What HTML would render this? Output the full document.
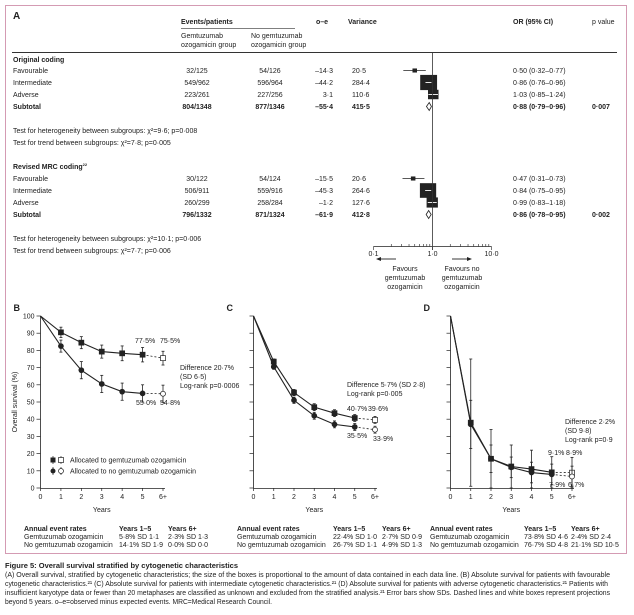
<!DOCTYPE html>
<html><head><meta charset="utf-8"><style>
html,body{margin:0;padding:0;background:#fff;}
svg{display:block;font-family:"Liberation Sans Narrow","Liberation Sans",sans-serif;fill:#222;}
text{font-size:7px;}
.b{font-weight:bold;}
</style></head><body>
<svg id="fig" width="634" height="615" viewBox="0 0 634 615" xmlns="http://www.w3.org/2000/svg">
<rect x="5.5" y="5.5" width="621" height="548" fill="none" stroke="#d49bb3" stroke-width="1"/>
<g id="panelA">
<text x="13" y="19" class="b" style="font-size:10px">A</text>
<text x="181" y="24" class="b">Events/patients</text>
<line x1="181" y1="28.5" x2="295" y2="28.5" stroke="#555" stroke-width="0.7"/>
<text x="316" y="24" class="b">o–e</text>
<text x="348" y="24" class="b">Variance</text>
<text x="513" y="24" class="b">OR (95% CI)</text>
<text x="592" y="24">p value</text>
<text x="181" y="38">Gemtuzumab</text>
<text x="181" y="47">ozogamicin group</text>
<text x="251" y="38">No gemtuzumab</text>
<text x="251" y="47">ozogamicin group</text>
<line x1="12" y1="52.5" x2="617" y2="52.5" stroke="#333" stroke-width="0.9"/>
<text x="13" y="62" class="b">Original coding</text>
<text x="13" y="133">Test for heterogeneity between subgroups: χ²=9·6; p=0·008</text>
<text x="13" y="145">Test for trend between subgroups: χ²=7·8; p=0·005</text>
<text x="13" y="169" class="b">Revised MRC coding<tspan dy="-3" style="font-size:4px">22</tspan></text>
<text x="13" y="241">Test for heterogeneity between subgroups: χ²=10·1; p=0·006</text>
<text x="13" y="253">Test for trend between subgroups: χ²=7·7; p=0·006</text>
<g id="forestRows"></g>
<line x1="432.5" y1="52" x2="432.5" y2="246" stroke="#333" stroke-width="0.8"/>
<g id="forestAxis"></g>
<line x1="380" y1="259" x2="396" y2="259" stroke="#222" stroke-width="0.9"/><path d="M376 259 l5 -2 v4z" fill="#222"/>
<line x1="452" y1="259" x2="468" y2="259" stroke="#222" stroke-width="0.9"/><path d="M472 259 l-5 -2 v4z" fill="#222"/>
<text x="405" y="271" text-anchor="middle">Favours</text>
<text x="405" y="280" text-anchor="middle">gemtuzumab</text>
<text x="405" y="289" text-anchor="middle">ozogamicin</text>
<text x="462" y="271" text-anchor="middle">Favours no</text>
<text x="462" y="280" text-anchor="middle">gemtuzumab</text>
<text x="462" y="289" text-anchor="middle">ozogamicin</text>
</g>
<g id="survival"></g>
<g id="tables"></g>
<g>
<text x="5" y="568" class="b" style="font-size:7.5px">Figure 5: Overall survival stratified by cytogenetic characteristics</text>
<text x="5" y="577" textLength="605" lengthAdjust="spacingAndGlyphs">(A) Overall survival, stratified by cytogenetic characteristics; the size of the boxes is proportional to the amount of data contained in each data line. (B) Absolute survival for patients with favourable</text>
<text x="5" y="586" textLength="603" lengthAdjust="spacingAndGlyphs">cytogenetic characteristics.²¹ (C) Absolute survival for patients with intermediate cytogenetic characteristics.²¹ (D) Absolute survival for patients with adverse cytogenetic characteristics.²¹ Patients with</text>
<text x="5" y="595" textLength="605" lengthAdjust="spacingAndGlyphs">insufficient karyotype data or fewer than 20 metaphases are classified as unknown and excluded from the stratified analysis.²¹ Error bars show SDs. Dashed lines and white boxes represent projections</text>
<text x="5" y="604" textLength="267" lengthAdjust="spacingAndGlyphs">beyond 5 years. o–e=observed minus expected events. MRC=Medical Research Council.</text>
</g>
</svg>
<script>
const NS="http://www.w3.org/2000/svg";
// ---- Forest plot data ----
const forestLabels=["Favourable","Intermediate","Adverse","Subtotal","Favourable","Intermediate","Adverse","Subtotal"];
const forestGem=["32/125","549/962","223/261","804/1348","30/122","506/911","260/299","796/1332"];
const forestNoGem=["54/126","596/964","227/256","877/1346","54/124","559/916","258/284","871/1324"];
const forestOE=["-14·3","-44·2","3·1","-55·4","-15·5","-45·3","-1·2","-61·9"];
const forestVar=[20.5,284.4,110.6,415.5,20.6,264.6,127.6,412.8];
const forestOR=[0.50,0.86,1.03,0.88,0.47,0.84,0.99,0.86];
const forestLo=[0.32,0.76,0.85,0.79,0.31,0.75,0.83,0.78];
const forestHi=[0.77,0.96,1.24,0.96,0.73,0.95,1.18,0.95];
const forestP=["","","","0·007","","","","0·002"];
const forestRowY=[73,85,97,109,181,193,205,217];
const orTicks=[0.1,1,10];
const orTickLabels=["0·1","1·0","10·0"];
function fmt(v){return v.toFixed(2).replace('.','·');}
function fmtV(v){return v.toFixed(1).replace('.','·');}
function orX(v){return 432.5+59*Math.log10(v);}
function mk(tag,attrs,parent){const e=document.createElementNS(NS,tag);for(const k in attrs)e.setAttribute(k,attrs[k]);parent.appendChild(e);return e;}
const fr=document.getElementById('forestRows');
forestLabels.forEach((lab,i)=>{
  const y=forestRowY[i], sub=lab==="Subtotal";
  const g=mk('g',{},fr);
  
  
  const cls=sub?'b':'';
  let t=mk('text',{x:13,y:y,class:cls},g);t.textContent=lab;
  t=mk('text',{x:197,y:y,'text-anchor':'middle',class:cls},g);t.textContent=forestGem[i];
  t=mk('text',{x:270,y:y,'text-anchor':'middle',class:cls},g);t.textContent=forestNoGem[i];
  t=mk('text',{x:333,y:y,'text-anchor':'end',class:cls},g);t.textContent=forestOE[i].replace('-','–');
  t=mk('text',{x:352,y:y,class:cls},g);t.textContent=fmtV(forestVar[i]);
  t=mk('text',{x:513,y:y,class:cls},g);t.textContent=fmt(forestOR[i])+" ("+fmt(forestLo[i])+"–"+fmt(forestHi[i])+")";
  if(forestP[i]){t=mk('text',{x:592,y:y,class:cls},g);t.textContent=forestP[i];}
  const cy=y-2.5, cx=orX(forestOR[i]), x1=orX(forestLo[i]), x2=orX(forestHi[i]);
  if(sub){
    const d=mk('path',{d:`M${x1} ${cy} L${cx} ${cy-4} L${x2} ${cy} L${cx} ${cy+4}Z`,fill:'#fff',stroke:'#222','stroke-width':0.8},g);
    
    
  } else {
    const s=Math.sqrt(forestVar[i]);
    mk('line',{x1:x1,y1:cy,x2:x2,y2:cy,stroke:'#222','stroke-width':0.8},g);
    const r=mk('rect',{x:cx-s/2,y:cy-s*0.45,width:s,height:s*0.9,fill:'#222'},g);
    
    
    if(s>8) mk('line',{x1:x1,y1:cy,x2:x2,y2:cy,stroke:'#fff','stroke-width':0.9},g);
  }
});
const fa=document.getElementById('forestAxis');
mk('line',{x1:orX(0.1),y1:246.5,x2:orX(10),y2:246.5,stroke:'#222','stroke-width':0.8},fa);
for(let d=0.1;d<10;d*=10){for(let k=1;k<=10;k++){const x=orX(d*k);mk('line',{x1:x,y1:246.5,x2:x,y2:(k===1||k===10)?250:244,stroke:'#222','stroke-width':0.6},fa);}}
orTicks.forEach((v,i)=>{const t=mk('text',{x:orX(v),y:256,'text-anchor':'middle'},fa);t.textContent=orTickLabels[i];});

// ---- Survival data ----
const years=["0","1","2","3","4","5","6+"];
const yTicks=[0,10,20,30,40,50,60,70,80,90,100];
const bGem=[100,90.5,84.5,79.3,78.3,77.5,75.5];
const bGemSD=[0,3,3.5,3.8,4.3,4.2,4];
const bNo=[100,82.5,68.5,60.5,56,55,54.8];
const bNoSD=[0,3.5,5,5,5,5,5];
const cGem=[100,73.5,55.5,47,43.5,40.7,39.6];
const cGemSD=[0,1.5,1.8,2,2,2,2];
const cNo=[100,70.5,51,42,37,35.5,33.9];
const cNoSD=[0,1.5,1.8,2,2,2,2];
const dGem=[100,38,17,12.5,11,9.1,8.9];
const dGemSD=[0,37,17,12.5,11,9.1,8.9];
const dNo=[100,37,17,12,9,7.9,6.7];
const dNoSD=[0,14,8,6,6,6,6];
const panels=[
 {id:'b',letter:'B',x0:40.5,x6:163,gem:bGem,gsd:bGemSD,no:bNo,nsd:bNoSD,labels:true,
  ann:[["77·5%",135,343],["75·5%",160,343],["55·0%",136,405],["54·8%",160,405],["Difference 20·7%",180,370],["(SD 6·5)",180,379],["Log-rank p=0·0006",180,388]]},
 {id:'c',letter:'C',x0:253.5,x6:375,gem:cGem,gsd:cGemSD,no:cNo,nsd:cNoSD,labels:false,
  ann:[["Difference 5·7% (SD 2·8)",347,387],["Log-rank p=0·005",347,396],["40·7%",347,411],["39·6%",368,411],["35·5%",347,438],["33·9%",373,441]]},
 {id:'d',letter:'D',x0:450.5,x6:572,gem:dGem,gsd:dGemSD,no:dNo,nsd:dNoSD,labels:false,
  ann:[["Difference 2·2%",565,424],["(SD 9·8)",565,433],["Log-rank p=0·9",565,442],["9·1%",548,455],["8·9%",566,455],["7·9%",549,487],["6·7%",568,487]]}
];
function Y(v){return 488-v*1.72;}
const sv=document.getElementById('survival');
panels.forEach(p=>{
  const g=mk('g',{},sv);
  
  
  const X=i=>p.x0+i*(p.x6-p.x0)/6;
  let t=mk('text',{x:p.x0-27,y:311,class:'b',style:'font-size:9px'},g);t.textContent=p.letter;
  mk('line',{x1:p.x0,y1:Y(100),x2:p.x0,y2:488,stroke:'#222','stroke-width':0.8},g);
  mk('line',{x1:p.x0,y1:488.5,x2:X(6)+2,y2:488.5,stroke:'#222','stroke-width':0.8},g);
  yTicks.forEach(v=>{mk('line',{x1:p.x0-4,y1:Y(v),x2:p.x0,y2:Y(v),stroke:'#222','stroke-width':0.7},g);
    if(p.labels){const tt=mk('text',{x:p.x0-6,y:Y(v)+2.5,'text-anchor':'end'},g);tt.textContent=v;}});
  years.forEach((yr,i)=>{mk('line',{x1:X(i),y1:488,x2:X(i),y2:491,stroke:'#222','stroke-width':0.7},g);
    const tt=mk('text',{x:X(i),y:499,'text-anchor':'middle'},g);tt.textContent=yr;});
  t=mk('text',{x:X(3),y:512,'text-anchor':'middle'},g);t.textContent="Years";
  [[p.gem,p.gsd,'sq'],[p.no,p.nsd,'ci']].forEach(([vals,sd,shape])=>{
    const pts=vals.slice(0,6).map((v,i)=>X(i)+','+Y(v)).join(' ');
    const pl=mk('polyline',{points:pts,fill:'none',stroke:'#222','stroke-width':1.1},g);
    
    
    mk('line',{x1:X(5),y1:Y(vals[5]),x2:X(6),y2:Y(vals[6]),stroke:'#222','stroke-width':0.8,'stroke-dasharray':'2,2'},g);
    vals.forEach((v,i)=>{
      if(i===0)return;
      const x=X(i),y=Y(v),lo=Y(Math.max(0,v-sd[i])),hi=Y(v+sd[i]);
      mk('line',{x1:x,y1:lo,x2:x,y2:hi,stroke:'#222','stroke-width':0.8},g);
      mk('line',{x1:x-1.5,y1:lo,x2:x+1.5,y2:lo,stroke:'#222','stroke-width':0.8},g);
      mk('line',{x1:x-1.5,y1:hi,x2:x+1.5,y2:hi,stroke:'#222','stroke-width':0.8},g);
      const open=i===6, fill=open?'#fff':'#222';
      let m;
      if(shape==='sq') m=mk('rect',{x:x-2.5,y:y-2.5,width:5,height:5,fill:fill,stroke:'#222','stroke-width':0.7},g);
      else m=mk('circle',{cx:x,cy:y,r:2.5,fill:fill,stroke:'#222','stroke-width':0.7},g);
      
      
    });
  });
  p.ann.forEach(a=>{const tt=mk('text',{x:a[1],y:a[2]},g);tt.textContent=a[0];});
});
let yt=mk('text',{x:17,y:402,transform:'rotate(-90 17 402)','text-anchor':'middle'},sv);
yt.textContent="Overall survival (%)";


const lg=mk('g',{},sv);


[[460,'sq','Allocated to gemtuzumab ozogamicin'],[471,'ci','Allocated to no gemtuzumab ozogamicin']].forEach(([y,s,l])=>{
  mk('line',{x1:53,y1:y-4,x2:53,y2:y+4,stroke:'#222','stroke-width':0.7},lg);
  mk('line',{x1:61,y1:y-4,x2:61,y2:y+4,stroke:'#222','stroke-width':0.7},lg);
  if(s==='sq'){mk('rect',{x:50.5,y:y-2.5,width:5,height:5,fill:'#222'},lg);mk('rect',{x:58.5,y:y-2.5,width:5,height:5,fill:'#fff',stroke:'#222','stroke-width':0.7},lg);}
  else{mk('circle',{cx:53,cy:y,r:2.5,fill:'#222'},lg);mk('circle',{cx:61,cy:y,r:2.5,fill:'#fff',stroke:'#222','stroke-width':0.7},lg);}
  const tt=mk('text',{x:70,y:y+2.5},lg);tt.textContent=l;
});
const tableX=[[24,119,168],[237,333,382],[430,524,571]];
const tblGem15=["5·8% SD 1·1","22·4% SD 1·0","73·8% SD 4·6"];
const tblGem6=["2·3% SD 1·3","2·7% SD 0·9","2·4% SD 2·4"];
const tblNo15=["14·1% SD 1·9","26·7% SD 1·1","76·7% SD 4·8"];
const tblNo6=["0·0% SD 0·0","4·9% SD 1·3","21·1% SD 10·5"];
const tb=document.getElementById('tables');
tableX.forEach((c,i)=>{
  const g=mk('g',{},tb);
  
  
  const rows=[["Annual event rates","Years 1–5","Years 6+",true],["Gemtuzumab ozogamicin",tblGem15[i],tblGem6[i],false],["No gemtuzumab ozogamicin",tblNo15[i],tblNo6[i],false]];
  rows.forEach((r,j)=>{const y=531+j*8;
    [0,1,2].forEach(k=>{const tt=mk('text',{x:c[k],y:y,class:r[3]?'b':''},g);tt.textContent=r[k];});});
});
</script>
</body></html>
